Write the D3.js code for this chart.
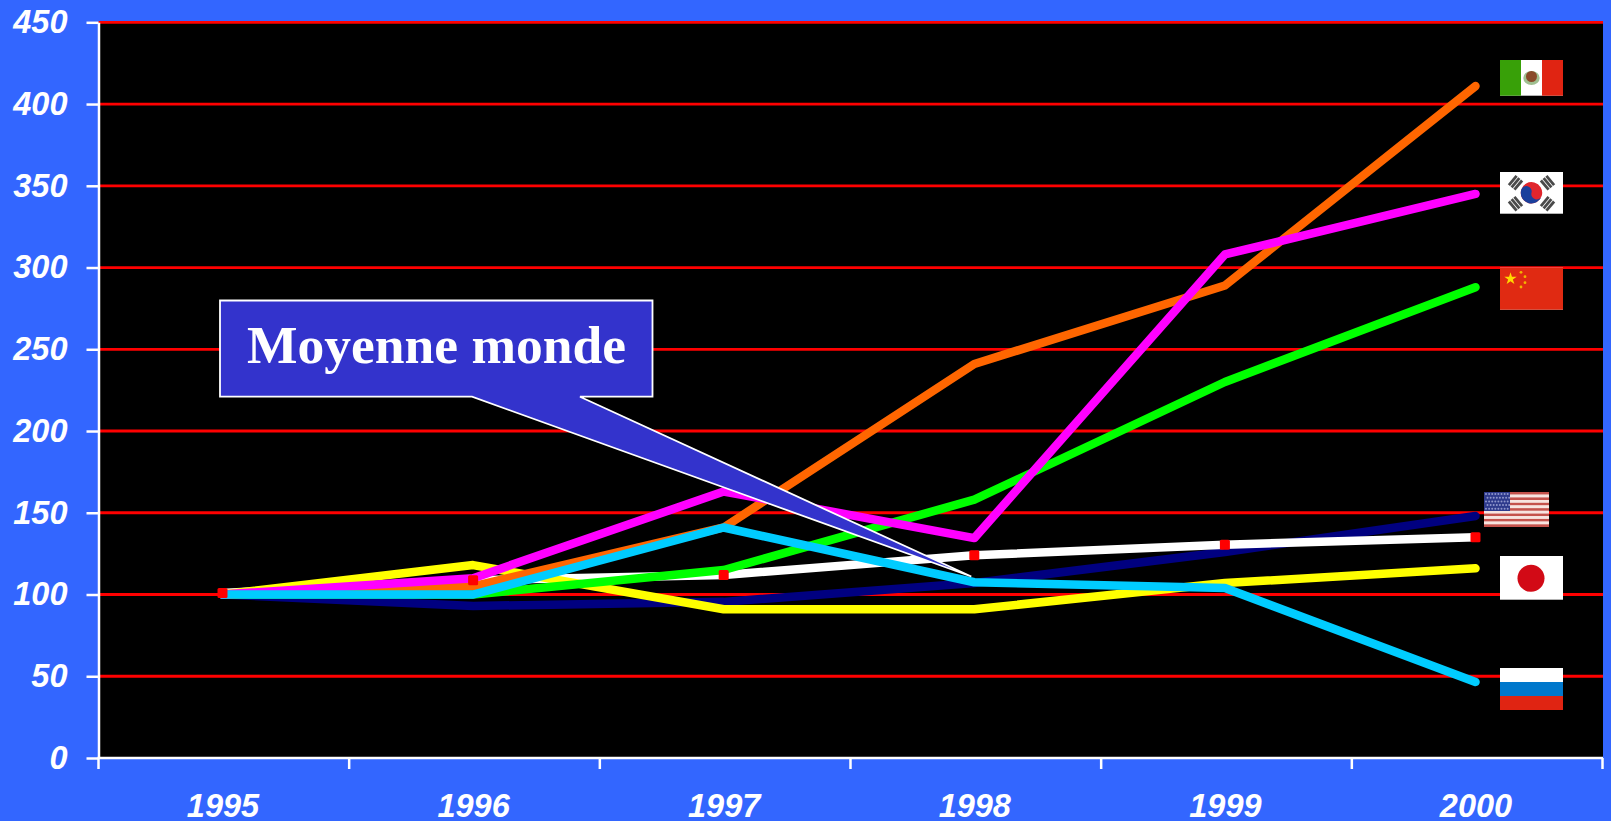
<!DOCTYPE html>
<html>
<head>
<meta charset="utf-8">
<script src="https://cdn.jsdelivr.net/npm/d3@7"></script>
<style>
  body { margin: 0; background: #3366ff; overflow: hidden; }
  svg { display: block; }
  .axis text { font-family: "Liberation Sans", Arial, sans-serif; font-weight: bold; font-style: italic; font-size: 32.5px; fill: #fff; }
  .axis line, .axis path { stroke: #fff; stroke-width: 2.5px; }
</style>
</head>
<body>
<div id="chart"></div>
<script>
// Data
var years = ["1995", "1996", "1997", "1998", "1999", "2000"];
var yTicks = [0, 50, 100, 150, 200, 250, 300, 350, 400, 450];
var mexico = [100, 105, 141, 241, 289, 411];
var korea = [100, 110, 163, 134.5, 308, 345];
var china = [100, 100, 115, 158, 230, 288];
var usa = [100, 93, 95.5, 107, 126, 148];
var japan = [100, 118, 91, 91, 107, 116];
var russia = [100, 100, 141, 107.5, 104, 46.5];
var world = [101, 108.7, 112, 124, 130.5, 135];
var calloutLabel = "Moyenne monde";

// Page and plot area
var svgWidth = 1611;
var svgHeight = 821;
var plot = { left: 98.5, right: 1603, top: 22.3, bottom: 758 };

var svg = d3.select("#chart").append("svg")
  .attr("width", svgWidth)
  .attr("height", svgHeight);

// Scales
var yScale = d3.scaleLinear().domain([0, 450]).range([plot.bottom, plot.top]);
var xScale = d3.scalePoint().domain(years).range([222.5, 1475.5]);
var xTickScale = d3.scaleLinear().domain([0, years.length]).range([plot.left, 1602.5]);

// Black plot background
svg.append("rect")
  .attr("x", plot.left)
  .attr("y", plot.top)
  .attr("width", plot.right - plot.left)
  .attr("height", plot.bottom - plot.top)
  .attr("fill", "#000");

// Red gridlines
svg.append("g").selectAll("line")
  .data(yTicks.filter(d => d > 0))
  .enter()
  .append("line")
  .attr("x1", plot.left)
  .attr("x2", plot.right)
  .attr("y1", d => yScale(d))
  .attr("y2", d => yScale(d))
  .attr("stroke", "#ff0000")
  .attr("stroke-width", 2.8);

// Left axis
svg.append("g")
  .attr("class", "axis")
  .attr("transform", `translate(${plot.left}, 0)`)
  .call(d3.axisLeft(yScale).tickValues(yTicks).tickSize(12).tickSizeOuter(0).tickPadding(19));

// Bottom axis: labels sit on the points, tick marks between the years
var xAxis = svg.append("g")
  .attr("class", "axis")
  .attr("transform", `translate(0, ${plot.bottom})`)
  .call(d3.axisBottom(xScale).tickSize(0).tickSizeOuter(0));

xAxis.select(".domain").remove();
xAxis.selectAll("text").attr("y", 58.5).attr("dy", 0);

xAxis.selectAll(".boundary")
  .data(d3.range(years.length + 1))
  .enter()
  .append("line")
  .attr("class", "boundary")
  .attr("x1", d => xTickScale(d))
  .attr("x2", d => xTickScale(d))
  .attr("y1", 0)
  .attr("y2", 11);

xAxis.append("line")
  .attr("x1", plot.left - 1)
  .attr("x2", 1603)
  .attr("y1", 0)
  .attr("y2", 0);

// Lines, first one at the bottom of the pile
var line = d3.line()
  .x((d, i) => xScale(years[i]))
  .y(d => yScale(d));

var lineSeries = [
  { values: usa, color: "#000080" },
  { values: world, color: "#ffffff" },
  { values: japan, color: "#ffff00" },
  { values: china, color: "#00ff00" },
  { values: mexico, color: "#ff6600" },
  { values: korea, color: "#ff00ff" },
  { values: russia, color: "#00ccff" }
];

svg.append("g").selectAll("path")
  .data(lineSeries)
  .enter()
  .append("path")
  .attr("d", d => line(d.values))
  .attr("fill", "none")
  .attr("stroke", d => d.color)
  .attr("stroke-width", 8.5)
  .attr("stroke-linecap", "round")
  .attr("stroke-linejoin", "round");

// Red markers on the world average
svg.append("g").selectAll("rect")
  .data(world)
  .enter()
  .append("rect")
  .attr("x", (d, i) => xScale(years[i]) - 5)
  .attr("y", d => yScale(d) - 5)
  .attr("width", 10)
  .attr("height", 10)
  .attr("rx", 1.5)
  .attr("fill", "#ff0000");

// Callout
var tipX = xScale("1998") - 3;
var tipY = yScale(111);
svg.append("path")
  .attr("d", `M220,300.5H652.5V396.7H580L${tipX},${tipY}L472,396.7H220Z`)
  .attr("fill", "#3333cc")
  .attr("stroke", "#fff")
  .attr("stroke-width", 1.8);

svg.append("text")
  .attr("x", 436.5)
  .attr("y", 362.7)
  .attr("text-anchor", "middle")
  .attr("font-family", "'Liberation Serif', 'Times New Roman', serif")
  .attr("font-weight", "bold")
  .attr("font-size", 53.5)
  .attr("fill", "#fff")
  .text(calloutLabel);

// Flags
function flagGroup(x, y, w, h) {
  var g = svg.append("g").attr("transform", `translate(${x}, ${y})`);
  g.append("rect").attr("width", w).attr("height", h).attr("fill", "#fff");
  return g;
}

function bar(g, x, y, w, h, color) {
  g.append("rect").attr("x", x).attr("y", y).attr("width", w).attr("height", h).attr("fill", color);
}

// Mexico
var mx = flagGroup(1500, 60, 63, 35.7);
bar(mx, 0, 0, 21, 35.7, "#38a008");
bar(mx, 42, 0, 21, 35.7, "#e02412");
mx.append("ellipse").attr("cx", 31.5).attr("cy", 18).attr("rx", 8.2).attr("ry", 7).attr("fill", "#9fbf90");
mx.append("ellipse").attr("cx", 31.5).attr("cy", 16.5).attr("rx", 5.5).attr("ry", 5.5).attr("fill", "#8a4a2a");

// Korea
var kr = flagGroup(1500, 172, 63, 41.7);
var krC = { x: 31.5, y: 20.8 };
var krG = kr.append("g").attr("transform", `translate(${krC.x}, ${krC.y}) rotate(15)`);
krG.append("circle").attr("r", 10.7).attr("fill", "#e0252c");
krG.append("path")
  .attr("d", "M-10.7,0A5.35,5.35 0 0 1 0,0A5.35,5.35 0 0 0 10.7,0A10.7,10.7 0 0 1 -10.7,0Z")
  .attr("fill", "#1a3f9c");
[[-16, -10, -50], [16, -10, 50], [-16, 11, 50], [16, 11, -50]].forEach(function(t) {
  var tri = kr.append("g").attr("transform", `translate(${krC.x + t[0]}, ${krC.y + t[1]}) rotate(${t[2]})`);
  [-3.6, 0, 3.6].forEach(function(off) {
    bar(tri, -6, off - 1.4, 12, 2.8, "#4a4a4a");
  });
});

// China
var cn = flagGroup(1500, 267.7, 63, 42);
bar(cn, 0, 0, 63, 42, "#e02a12");
var star = d3.symbol().type(d3.symbolStar).size(48);
cn.append("path").attr("d", star()).attr("transform", "translate(10.5, 11)").attr("fill", "#ffd800");
[[21, 4.6], [25, 9], [25, 15], [21, 19.3]].forEach(function(p) {
  cn.append("circle").attr("cx", p[0]).attr("cy", p[1]).attr("r", 1.4).attr("fill", "#f2b400");
});

// USA
var us = flagGroup(1484, 492, 65, 35);
d3.range(13).forEach(function(i) {
  bar(us, 0, i * 35 / 13, 65, 35 / 13, i % 2 ? "#f7e4e0" : "#c4524c");
});
bar(us, 0, 0, 26, 19, "#2e3a8c");
d3.range(5).forEach(function(r) {
  d3.range(8).forEach(function(c) {
    us.append("circle")
      .attr("cx", 2 + c * 3.1 + (r % 2) * 1.5)
      .attr("cy", 2 + r * 3.7)
      .attr("r", 1)
      .attr("fill", "#8f96cc");
  });
});

// Japan
var jp = flagGroup(1500, 556, 63, 43.7);
jp.append("circle").attr("cx", 31).attr("cy", 22.3).attr("r", 13.5).attr("fill", "#d20a16");

// Russia
var ru = flagGroup(1500, 668, 63, 42);
bar(ru, 0, 14, 63, 14, "#0078cc");
bar(ru, 0, 28, 63, 14, "#e02412");
</script>
</body>
</html>
